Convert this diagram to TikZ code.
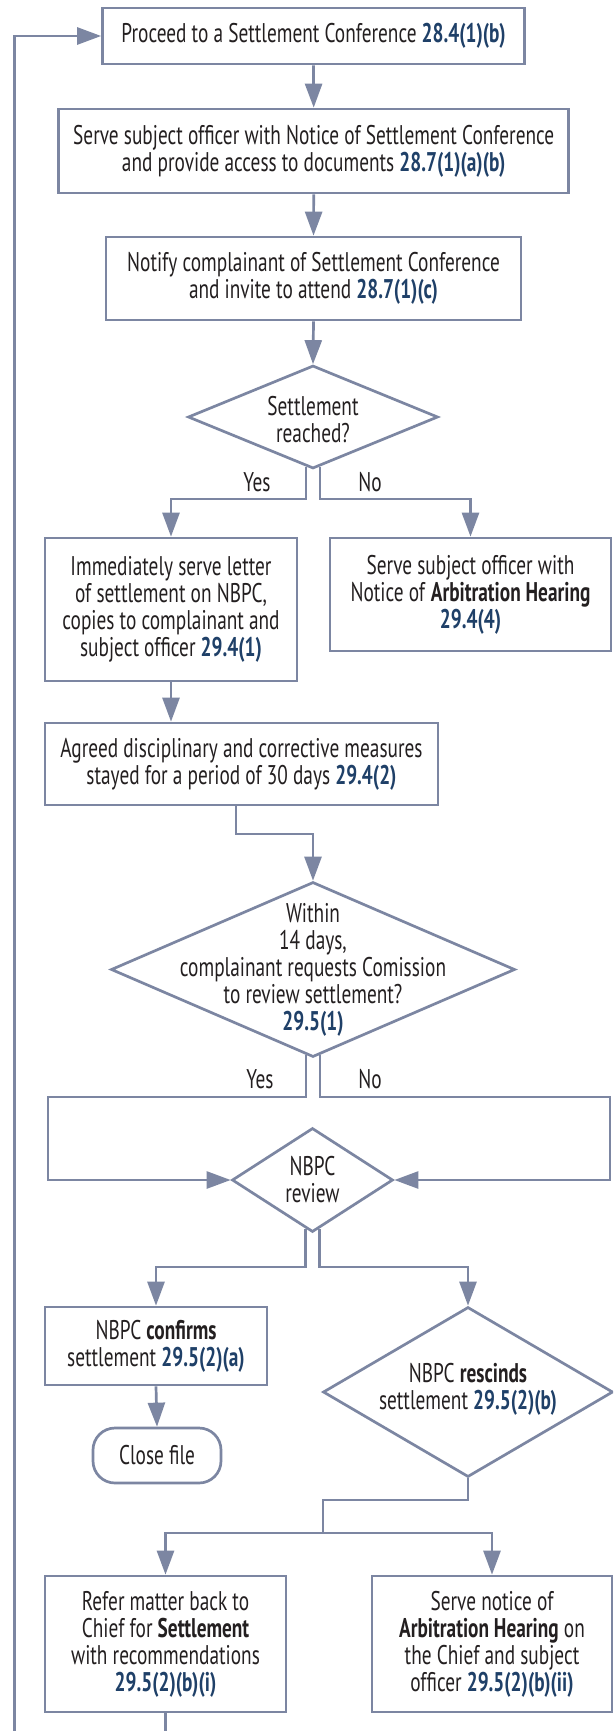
\documentclass[tikz,border=0pt]{standalone}
\usepackage{fontspec}
\setmainfont[FakeStretch=0.715]{PT Sans}
\usetikzlibrary{arrows.meta,shapes.geometric}
\definecolor{lineblue}{HTML}{7C86A2}
\definecolor{txt}{HTML}{231F20}
\definecolor{refblue}{HTML}{1F4068}
\newcommand\clause[1]{\textbf{\color{refblue}#1}}
\newcommand\fs{\fontsize{27}{27}\selectfont}

\begin{document}
\begin{tikzpicture}[x=1pt,y=-1pt,
  box/.style={draw=lineblue, line width=2.7pt, align=center, inner sep=0pt, text=txt, font=\fs},
  dia/.style={draw=lineblue, line width=2.7pt, diamond, inner sep=0pt},
  lbl/.style={align=center, text=txt, font=\fs, inner sep=0pt},
  conn/.style={draw=lineblue, line width=2.7pt},
  arr/.style={conn, -{Triangle[length=24pt,width=17pt]}}]
\clip (0,0) rectangle (613,1731);
\fill[white] (0,0) rectangle (613,1731);

% process boxes
\node[box, minimum width=422pt, minimum height=56pt] (b1) at (313.5,36)
  {Proceed to a Settlement Conference \clause{28.4(1)(b)}};
\node[box, minimum width=510pt, minimum height=84pt] (b2) at (313.7,151)
  {Serve subject officer with Notice of Settlement Conference\\and provide access to documents \clause{28.7(1)(a)(b)}};
\node[box, minimum width=415pt, minimum height=83pt] (b3) at (313.5,278.5)
  {Notify complainant of Settlement Conference\\and invite to attend \clause{28.7(1)(c)}};

% first decision
\node[dia, minimum width=250pt, minimum height=103pt] (d1) at (313,417) {};
\node[lbl] (d1t) at (313,420) {Settlement\\reached?};

\node[box, minimum width=252pt, minimum height=143pt] (b4) at (171,609.5)
  {Immediately serve letter\\of settlement on NBPC,\\copies to complainant and\\subject officer \clause{29.4(1)}};
\node[box, minimum width=281pt, minimum height=113pt] (b5) at (470.5,594.5)
  {Serve subject officer with\\Notice of \textbf{Arbitration Hearing}\\\clause{29.4(4)}};
\node[box, minimum width=393pt, minimum height=82pt] (b6) at (241.5,764)
  {Agreed disciplinary and corrective measures\\stayed for a period of 30 days \clause{29.4(2)}};

% review request decision
\node[dia, minimum width=404pt, minimum height=175pt] (d2) at (313,969.5) {};
\node[lbl] (d2t) at (313,970)
  {Within\\14 days,\\complainant requests Comission\\to review settlement?\\\clause{29.5(1)}};

\node[dia, minimum width=161pt, minimum height=104pt] (d3) at (312.5,1180) {};
\node[lbl] (d3t) at (312.5,1180) {NBPC\\review};

\node[box, minimum width=222pt, minimum height=78pt] (b7) at (156,1346)
  {NBPC \textbf{confirms}\\settlement \clause{29.5(2)(a)}};
\node[box, minimum width=128pt, minimum height=55pt, rounded corners=22pt] (t1) at (157,1455.5)
  {Close file};

\node[dia, minimum width=290pt, minimum height=170pt] (d4) at (468,1392) {};
\node[lbl] (d4t) at (468,1389) {NBPC \textbf{rescinds}\\settlement \clause{29.5(2)(b)}};

\node[box, minimum width=241pt, minimum height=136pt] (b8) at (165.5,1644)
  {Refer matter back to\\Chief for \textbf{Settlement}\\with recommendations\\\clause{29.5(2)(b)(i)}};
\node[box, minimum width=240pt, minimum height=136pt] (b9) at (492,1644)
  {Serve notice of\\\textbf{Arbitration Hearing} on\\the Chief and subject\\officer \clause{29.5(2)(b)(ii)}};

% branch labels
\node[lbl] (yes1) at (257,482) {Yes};
\node[lbl] (no1) at (370,482) {No};
\node[lbl] (yes2) at (260,1079) {Yes};
\node[lbl] (no2) at (370,1079) {No};

% routing levels
\coordinate (y1) at (0,499);
\coordinate (y2) at (0,1097);
\coordinate (y3) at (0,1267);
\coordinate (y6) at (0,834);
\coordinate (xl) at (48,0);
\coordinate (xr) at (610,0);
\coordinate (j1) at (323,1500);
\coordinate (j2) at (323,1533);
\coordinate (lb) at (14.5,1760);

% straight flow
\draw[arr] (b1.south) -- (b2.north);
\draw[arr] (b2.south) -- (b3.north);
\draw[arr] (b3.south) -- (d1.north);
\draw[arr] ([xshift=-7pt,yshift=3pt]d1.south) |- (y1 -| b4.north) -- (b4.north);
\draw[arr] ([xshift=7pt,yshift=3pt]d1.south) |- (y1 -| b5.north) -- (b5.north);
\draw[arr] (b4.south) -- (b4.south |- b6.north);
\draw[arr] ([xshift=-5.5pt]b6.south) |- (y6 -| d2.north) -- (d2.north);
\draw[arr] ([xshift=-7pt,yshift=3pt]d2.south) |- (y2 -| xl) |- (d3.west);
\draw[arr] ([xshift=7pt,yshift=3pt]d2.south) |- (y2 -| xr) |- (d3.east);
\draw[arr] ([xshift=-7pt,yshift=4.5pt]d3.south) |- (y3 -| b7.north) -- (b7.north);
\draw[arr] ([xshift=7pt,yshift=4.5pt]d3.south) |- (y3 -| d4.north) -- (d4.north);
\draw[arr] (b7.south) -- (t1.north);
\draw[conn] (d4.south) |- (j1) -- (j2);
\draw[arr] (j2) -| (b8.north);
\draw[arr] (j2) -| (b9.north);

% loop back to the settlement conference
\draw[arr] (b8.south) -- (b8.south |- lb) -- (lb) |- (b1.west);
\end{tikzpicture}
\end{document}
